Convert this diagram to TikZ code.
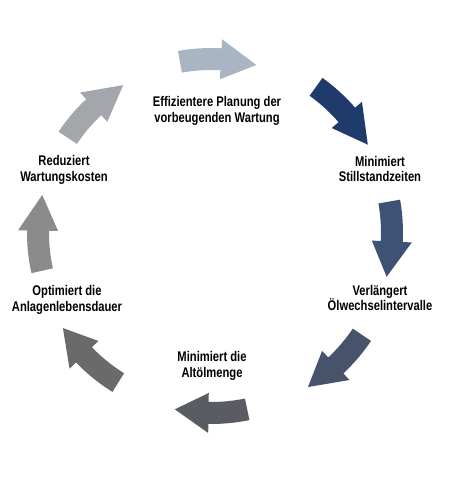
\documentclass[tikz,border=0pt]{standalone}
\usepackage{fontspec}
\setmainfont[FakeStretch=0.8]{Liberation Sans}
\usetikzlibrary{calc}
\definecolor{cA}{HTML}{A9B5C3}
\definecolor{cB}{HTML}{1F3B6B}
\definecolor{cC}{HTML}{3E5276}
\definecolor{cD}{HTML}{46536B}
\definecolor{cE}{HTML}{595C62}
\definecolor{cF}{HTML}{6A6A6B}
\definecolor{cG}{HTML}{8B8B8C}
\definecolor{cH}{HTML}{A3A7AC}
% #1 colour, #2 mid radius, #3 tail angle, #4 head-base angle, #5 tip angle
\newcommand\cyclearrow[5]{%
  \pgfmathsetmacro\ro{#2+11}\pgfmathsetmacro\ri{#2-11}%
  \pgfmathsetmacro\hop{#2+20}\pgfmathsetmacro\hin{#2-20}%
  \fill[#1] ($(C)+(#3:\ro pt)$) arc[start angle=#3,end angle=#4,radius=\ro pt]
    -- ($(C)+(#4:\hop pt)$) -- ($(C)+(#5:#2 pt)$) -- ($(C)+(#4:\hin pt)$)
    -- ($(C)+(#4:\ri pt)$) arc[start angle=#4,end angle=#3,radius=\ri pt] -- cycle;}
\tikzset{lbl/.style={align=center,inner sep=0pt,font=\bfseries\fontsize{14}{15.5}\selectfont}}
\begin{document}
\begin{tikzpicture}[x=1pt,y=1pt]
\useasboundingbox[fill=white] (0,0) rectangle (464,-478);
\coordinate (C) at (211,-233);
\cyclearrow{cA}{174}{100.3}{86.7}{74.9}
\cyclearrow{cB}{180}{54.3}{41}{29.4}
\cyclearrow{cC}{181}{10}{-2.7}{-14}
\cyclearrow{cD}{182}{-34}{-46.7}{-57.8}
\cyclearrow{cE}{180}{-78.4}{-90.8}{-101.6}
\cyclearrow{cF}{176}{238.2}{223.8}{212.7}
\cyclearrow{cG}{173}{192.6}{179.2}{167.3}
\cyclearrow{cH}{172}{146.4}{133}{120.7}
\node[lbl] (t1) at (217,-111) {Effizientere Planung der\\vorbeugenden Wartung};
\node[lbl] (t2) at (380,-169) {Minimiert\\Stillstandzeiten};
\node[lbl] (t3) at (380,-298) {Verlängert\\Ölwechselintervalle};
\node[lbl] (t4) at (212,-366) {Minimiert die\\Altölmenge};
\node[lbl] (t5) at (67,-300) {Optimiert die\\Anlagenlebensdauer};
\node[lbl] (t6) at (64,-170) {Reduziert\\Wartungskosten};
\end{tikzpicture}
\end{document}
